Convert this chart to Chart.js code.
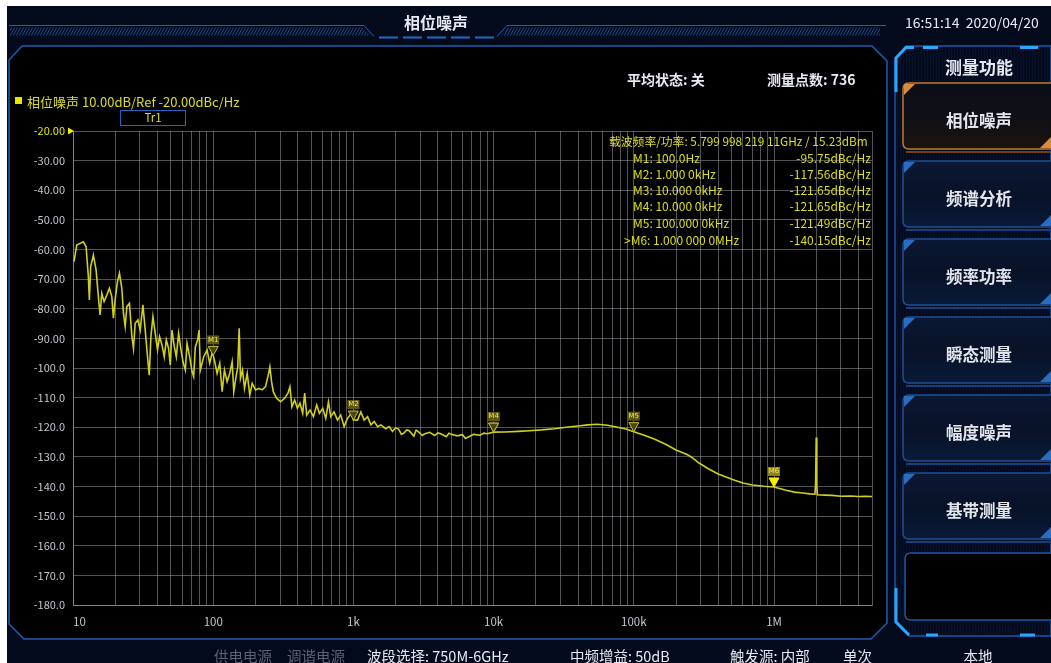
<!DOCTYPE html>
<html><head><meta charset="utf-8">
<script src="https://cdn.jsdelivr.net/npm/chart.js@4.4.1/dist/chart.umd.min.js"></script>
<style>
html,body{margin:0;padding:0;background:#fff;width:1051px;height:663px;overflow:hidden;font-family:"Noto Sans CJK SC","Noto Sans",sans-serif;}
#deco,#chart{position:absolute;left:0;top:0;}
.t{position:absolute;white-space:nowrap;line-height:1;transform:translateY(-50%);}
.c{transform:translate(-50%,-50%);}
.w{color:#e6e9f2;}
.y{color:#dede1e;}
.g{color:#5d6273;}
.btn{position:absolute;left:979px;transform:translate(-50%,-50%);font-size:16.5px;font-weight:bold;color:#e4e6ee;white-space:nowrap;line-height:1;}
.r{position:absolute;white-space:nowrap;line-height:1;transform:translateY(-50%);right:180px;text-align:right;}
.b{font-size:14.5px;}
</style></head><body>
<canvas id="deco" width="1051" height="663"></canvas>
<canvas id="chart" width="1051" height="663"></canvas>

<div class="t c w" style="left:436px;top:22px;font-size:16px;font-weight:bold;">相位噪声</div>
<div class="t w" style="left:905px;top:22px;font-size:14px;">16:51:14&nbsp;&nbsp;2020/04/20</div>

<div class="t w" style="left:627px;top:79px;font-size:14px;font-weight:bold;">平均状态: 关</div>
<div class="t w" style="left:767px;top:79px;font-size:14px;font-weight:bold;">测量点数: 736</div>

<div style="position:absolute;left:15px;top:97px;width:7px;height:7px;background:#e6e600;"></div>
<div class="t y" style="left:27px;top:101px;font-size:13px;">相位噪声 10.00dB/Ref -20.00dBc/Hz</div>
<div style="position:absolute;left:120px;top:110px;width:64px;height:14px;border:1px solid #2366bf;"></div>
<div class="t c y" style="left:153px;top:118px;font-size:11.5px;">Tr1</div>

<div class="t y" style="left:609px;top:141px;font-size:11.8px;">载波频率/功率: 5.799 998 219 11GHz / 15.23dBm</div>
<div class="t y" style="left:633px;top:158px;font-size:12px;">M1: 100.0Hz</div>
<div class="r y" style="top:158px;font-size:12px;">-95.75dBc/Hz</div>
<div class="t y" style="left:633px;top:174px;font-size:12px;">M2: 1.000 0kHz</div>
<div class="r y" style="top:174px;font-size:12px;">-117.56dBc/Hz</div>
<div class="t y" style="left:633px;top:190px;font-size:12px;">M3: 10.000 0kHz</div>
<div class="r y" style="top:190px;font-size:12px;">-121.65dBc/Hz</div>
<div class="t y" style="left:633px;top:206px;font-size:12px;">M4: 10.000 0kHz</div>
<div class="r y" style="top:206px;font-size:12px;">-121.65dBc/Hz</div>
<div class="t y" style="left:633px;top:223px;font-size:12px;">M5: 100.000 0kHz</div>
<div class="r y" style="top:223px;font-size:12px;">-121.49dBc/Hz</div>
<div class="t y" style="left:624px;top:240px;font-size:12px;">&gt;M6: 1.000 000 0MHz</div>
<div class="r y" style="top:240px;font-size:12px;">-140.15dBc/Hz</div>

<div class="t c w" style="left:979px;top:66px;font-size:17px;font-weight:bold;">测量功能</div>
<div class="btn" style="top:120px;">相位噪声</div>
<div class="btn" style="top:198px;">频谱分析</div>
<div class="btn" style="top:276px;">频率功率</div>
<div class="btn" style="top:354px;">瞬态测量</div>
<div class="btn" style="top:432px;">幅度噪声</div>
<div class="btn" style="top:510px;">基带测量</div>

<div class="t g b" style="left:214px;top:656px;">供电电源</div>
<div class="t g b" style="left:287px;top:656px;">调谐电源</div>
<div class="t w b" style="left:367px;top:656px;">波段选择: 750M-6GHz</div>
<div class="t w b" style="left:570px;top:656px;">中频增益: 50dB</div>
<div class="t w b" style="left:730px;top:656px;">触发源: 内部</div>
<div class="t w b" style="left:843px;top:656px;">单次</div>
<div class="t c w b" style="left:978px;top:656px;">本地</div>

<script>
// ---------------- data ----------------
const freqHz = [10.17,10.63,11.85,12.39,12.87,13.08,13.38,13.97,14.61,15.17,15.60,16.04,16.66,17.42,18.18,18.92,19.42,19.97,20.74,21.44,
22.30,22.90,23.55,24.22,25.28,26.30,27.00,27.77,29.03,30.15,31.52,32.74,34.00,34.97,35.96,37.16,38.60,40.09,41.43,43.10,
44.77,46.27,48.05,49.42,50.82,52.78,54.55,56.65,58.94,60.91,63.27,65.06,67.91,70.65,72.54,74.60,77.48,79.28,
80.99,85.52,90.45,94.41,98.21,100,102.0,106.6,111.3,115.8,120.3,125.7,131.2,136.5,140.2,144.9,149.7,153.2,156.5,161.8,167.2,174.8,
182.4,189.8,200.4,211.6,223.8,236.3,247.0,253.6,260.8,268.2,283.2,302.5,323.1,341.2,352.6,364.4,381.0,398.3,415.8,434.7,
449.2,464.3,490.3,518.6,547.3,572.2,604.2,634.8,663.7,689.3,727.6,769.9,812.9,858.2,907.7,969.5,1000,1070,1130,1193,
1262,1333,1407,1488,1571,
1700,1800,1900,2000,2100,2200,2300,2400,2500,2700,2800,2900,3100,3200,3500,3800,4000,4200,4600,4800,
5000,5500,6000,6300,6600,7200,8000,8500,9000,10000,
12000,15000,18000,22000,27000,33000,40000,47000,55000,65000,75000,88000,100000,
120000,140000,170000,200000,240000,260000,290000,340000,400000,460000,530000,600000,700000,850000,1000000,
1200000,1400000,1600000,1800000,1960000,1980000,2000000,2020000,2040000,2300000,2600000,3000000,3500000,4000000,4500000,5000000];
const phaseNoise = [-64.1,-58.5,-57.4,-59.0,-69.2,-77.0,-65.8,-61.9,-66.9,-75.9,-82.1,-74.8,-77.6,-75.4,-73.1,-75.9,-83.2,-77.0,-70.9,-68.0,
-73.1,-81.5,-86.0,-79.3,-78.2,-89.4,-93.4,-84.9,-83.8,-87.2,-78.7,-87.2,-96.2,-102.4,-89.4,-82.7,-88.3,-93.9,-89.4,-92.2,
-96.2,-90.5,-93.4,-99.0,-87.2,-92.8,-96.2,-88.3,-93.9,-97.9,-100.7,-91.7,-96.2,-101.2,-102.9,-92.8,-90.5,-87.2,
-100.7,-96.2,-93.9,-98.4,-95.0,-95.75,-97.3,-101.8,-98.4,-108.0,-100.7,-104.6,-101.8,-97.9,-108.0,-103.5,-99.6,-86.6,-103.5,-100.7,-106.9,-101.8,
-109.1,-105.2,-107.4,-106.9,-107.4,-106.3,-102.4,-99.6,-104.6,-108.0,-110.2,-111.4,-110.2,-108.5,-106.3,-113.1,-110.8,-113.6,-111.9,-115.3,
-108.5,-115.9,-114.2,-116.4,-112.5,-115.3,-113.6,-117.0,-111.4,-116.4,-114.8,-117.6,-115.9,-119.8,-117.0,-115.3,-117.56,-117.6,-114.8,-117.6,
-116.4,-119.2,-118.1,-119.8,-119.2,
-120.5,-119.8,-121.4,-120.2,-120.6,-122.4,-121.9,-120.9,-121.2,-123.0,-121.0,-121.5,-122.8,-122.3,-121.7,-122.8,-121.9,-122.2,-123.2,-122.0,
-122.4,-122.9,-122.5,-123.8,-123.3,-122.4,-122.7,-122.0,-122.2,-121.65,
-121.6,-121.4,-121.2,-120.9,-120.5,-120.0,-119.6,-119.2,-119.0,-119.3,-119.9,-120.6,-121.49,
-122.8,-124.0,-125.8,-127.7,-129.2,-130.2,-132.0,-134.0,-135.8,-136.9,-138.0,-138.8,-139.5,-139.9,-140.15,
-141.2,-141.9,-142.2,-142.5,-142.6,-139.0,-123.5,-139.5,-142.8,-142.9,-143.0,-143.3,-143.2,-143.4,-143.3,-143.4];

const markerNames = ['M1','M2','M3','M4','M5','M6'];
const markerFreqHz = [100,1000,10000,10000,100000,1000000];
const markerValues = [-95.75,-117.56,-121.65,-121.65,-121.49,-140.15];
const activeMarker = 'M6';

const refLevel = -20;
const yMin = -180, yMax = -20, yStep = 10;
const xMin = 10, xMax = 5000000;
const xDecades = [10,100,1000,10000,100000,1000000];
const xDecadeLabels = ['10','100','1k','10k','100k','1M'];

// ---------------- decoration ----------------
const d = document.getElementById('deco').getContext('2d');
d.fillStyle='#ffffff'; d.fillRect(0,0,1051,663);
d.fillStyle='#030a1c'; d.fillRect(7,6,1044,657);
function poly(pts){d.beginPath();pts.forEach((p,i)=>i?d.lineTo(p[0],p[1]):d.moveTo(p[0],p[1]));d.closePath();}
function rr(x,y,w,h,r){d.beginPath();d.moveTo(x+r,y);d.lineTo(x+w-r,y);d.quadraticCurveTo(x+w,y,x+w,y+r);d.lineTo(x+w,y+h-r);d.quadraticCurveTo(x+w,y+h,x+w-r,y+h);d.lineTo(x+r,y+h);d.quadraticCurveTo(x,y+h,x,y+h-r);d.lineTo(x,y+r);d.quadraticCurveTo(x,y,x+r,y);d.closePath();}

// main panel
poly([[22,46],[872,46],[887,61],[887,623],[871,639],[24,639],[9,624],[9,60]]);
d.fillStyle='#000'; d.fill(); d.strokeStyle='#1d5db0'; d.lineWidth=1.5; d.stroke();

// top bands
d.strokeStyle='#2062b2'; d.lineWidth=1;
d.beginPath(); d.moveTo(9,25.5); d.lineTo(364,25.5); d.lineTo(374,36.5); d.stroke();
d.beginPath(); d.moveTo(497,36.5); d.lineTo(507,25.5); d.lineTo(886,25.5); d.stroke();
function hatch(pts,x0,x1){
  d.save(); poly(pts); d.clip();
  d.strokeStyle='#1b4d8e'; d.lineWidth=1;
  for(let x=x0;x<x1;x+=3){d.beginPath();d.moveTo(x,36);d.lineTo(x+5,27);d.stroke();}
  d.restore();
}
hatch([[10,27.5],[362,27.5],[370,35.5],[10,35.5]],4,372);
hatch([[508,27.5],[880,27.5],[880,35.5],[501,35.5]],495,882);
d.strokeStyle='#1f6ac4'; d.lineWidth=2;
for(let i=0;i<5;i++){d.beginPath();d.moveTo(379+i*24,37.5);d.lineTo(398+i*24,37.5);d.stroke();}

// right panel
poly([[906,46],[1051,46],[1051,636],[909,636],[895,622],[895,58]]);
d.fillStyle='#040b1e'; d.fill(); d.strokeStyle='#1b58a8'; d.lineWidth=1.5; d.stroke();
d.save(); poly([[906,46],[1051,46],[1051,636],[909,636],[895,622],[895,58]]); d.clip();
d.strokeStyle='rgba(60,100,170,0.07)'; d.lineWidth=1;
for(let x=897;x<1051;x+=3){d.beginPath();d.moveTo(x+0.5,46);d.lineTo(x+0.5,636);d.stroke();}
d.restore();
d.strokeStyle='#27a8ff'; d.lineWidth=3;
d.beginPath(); d.moveTo(896,92); d.lineTo(896,58); d.lineTo(906,47.5); d.lineTo(914,47.5); d.stroke();
d.beginPath(); d.moveTo(923,47.5); d.lineTo(938,47.5); d.stroke();
d.beginPath(); d.moveTo(1020,47.5); d.lineTo(1038,47.5); d.stroke();
d.beginPath(); d.moveTo(896,588); d.lineTo(896,622); d.lineTo(909,635); d.stroke();
d.beginPath(); d.moveTo(926,635); d.lineTo(938,635); d.stroke();
d.beginPath(); d.moveTo(1020,635); d.lineTo(1035,635); d.stroke();

// buttons
const btnTops=[83,161,239,317,395,473];
btnTops.forEach((t,i)=>{
  const act = i===0;
  const g = d.createLinearGradient(0,t,0,t+66);
  if(act){g.addColorStop(0,'#0c0e18');g.addColorStop(0.5,'#0f0f16');g.addColorStop(1,'#1b140e');}
  else{g.addColorStop(0,'#0b1834');g.addColorStop(0.5,'#081227');g.addColorStop(1,'#0a1a38');}
  rr(903,t,160,66,6); d.fillStyle=g; d.fill();
  d.strokeStyle= act?'#c27a32':'#1e4f96'; d.lineWidth=1.5; d.stroke();
  d.fillStyle= act?'#d98c3e':'#2a6cc0';
  poly([[904,t+1],[915,t+1],[904,t+12]]); d.fill();
  poly([[1051,t+54],[1051,t+65],[1040,t+65]]); d.fill();
  d.fillStyle= act?'#6e4118':'#15407c';
  d.fillRect(906,t+68,145,2);
});
rr(905,553,150,67,6); d.fillStyle='#000'; d.fill(); d.strokeStyle='#1f56a6'; d.lineWidth=1.5; d.stroke();

// ---------------- chart ----------------
const xGrid=[];
xDecades.forEach(v=>{for(let m=1;m<=9;m++){const f=v*m; if(f<=xMax) xGrid.push(f);}});

const markerPlugin={
  id:'markers',
  afterDatasetsDraw(chart){
    const {ctx,scales:{x,y}}=chart;
    ctx.save();
    markerNames.forEach((n,i)=>{
      const px=x.getPixelForValue(markerFreqHz[i]), py=y.getPixelForValue(markerValues[i]);
      const act = n===activeMarker;
      ctx.beginPath(); ctx.moveTo(px,py); ctx.lineTo(px-5,py-9); ctx.lineTo(px+5,py-9); ctx.closePath();
      ctx.fillStyle= act?'#f4f000':'#4a460c'; ctx.fill();
      ctx.strokeStyle= act?'#f4f000':'#c9c02a'; ctx.lineWidth=1; ctx.stroke();
      ctx.fillStyle= act?'#8c8418':'#5e5812';
      ctx.fillRect(px-6,py-20,12,9);
      ctx.fillStyle='#f0e860'; ctx.font='7px "DejaVu Sans"'; ctx.textAlign='center'; ctx.textBaseline='middle';
      ctx.fillText(n,px,py-15.5);
    });
    const ry=y.getPixelForValue(refLevel), lx=chart.chartArea.left;
    ctx.beginPath(); ctx.moveTo(lx+1,ry); ctx.lineTo(lx-5,ry-3.5); ctx.lineTo(lx-5,ry+3.5); ctx.closePath();
    ctx.fillStyle='#f0f000'; ctx.fill();
    ctx.restore();
  }
};

new Chart(document.getElementById('chart'),{
  type:'line',
  data:{datasets:[{
    data: freqHz.map((f,i)=>({x:f,y:phaseNoise[i]})),
    borderColor:'#cfcf1c', borderWidth:1.6, pointRadius:0, tension:0, fill:false
  }]},
  options:{
    responsive:false, animation:false, events:[],
    layout:{padding:{left:0,top:131,right:179,bottom:30}},
    plugins:{legend:{display:false},tooltip:{enabled:false}},
    scales:{
      x:{type:'logarithmic',min:xMin,max:xMax,
        afterBuildTicks:(s)=>{s.ticks=xGrid.map(v=>({value:v}));},
        afterFit:(s)=>{s.height=28;},
        grid:{color:'rgba(150,150,158,0.55)',lineWidth:1,drawTicks:false},
        border:{color:'rgba(150,150,158,0.7)'},
        ticks:{autoSkip:false,maxRotation:0,minRotation:0,align:'inner',padding:10,color:'#c3c6cf',
          font:{family:'"Noto Sans CJK SC"',size:11.5},
          callback:(v)=>{const k=xDecades.indexOf(v);return k>=0?xDecadeLabels[k]:'';}}
      },
      y:{type:'linear',min:yMin,max:yMax,
        afterFit:(s)=>{s.width=73;},
        grid:{color:'rgba(150,150,158,0.55)',lineWidth:1,drawTicks:false},
        border:{color:'rgba(150,150,158,0.7)'},
        ticks:{stepSize:yStep,padding:8,
          color:(c)=>c.tick.value===refLevel?'#e6e600':'#c3c6cf',
          font:{family:'"Noto Sans CJK SC"',size:11},
          callback:(v)=>v>-100?v.toFixed(2):v.toFixed(1)}
      }
    }
  },
  plugins:[markerPlugin]
});
</script>
</body></html>
